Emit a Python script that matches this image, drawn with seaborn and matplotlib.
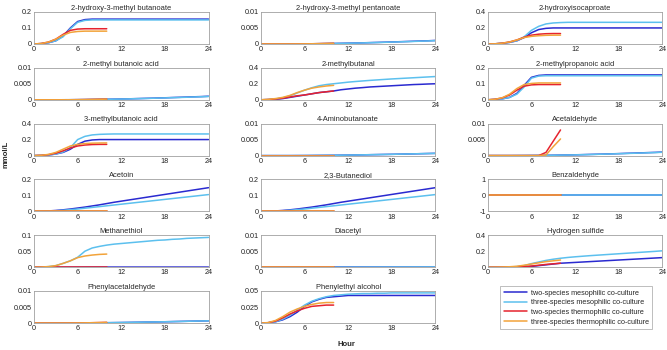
import pandas as pd
import numpy as np
import matplotlib
matplotlib.use('Agg')
import matplotlib.pyplot as plt
from matplotlib.lines import Line2D
from matplotlib.ticker import FuncFormatter
import seaborn as sns

# sampling hours
hours_meso = list(range(0, 25))
hours_thermo = list(range(0, 11))

cultures = ['two-species mesophilic co-culture', 'three-species mesophilic co-culture',
            'two-species thermophilic co-culture', 'three-species thermophilic co-culture']
colors = ['#2a2ad0', '#5cc0ee', '#e6232e', '#f2a33a']

compounds = ['2-hydroxy-3-methyl butanoate', '2-hydroxy-3-methyl pentanoate', '2-hydroxyisocaproate',
             '2-methyl butanoic acid', '2-methylbutanal', '2-methylpropanoic acid',
             '3-methylbutanoic acid', '4-Aminobutanoate', 'Acetaldehyde',
             'Acetoin', '2,3-Butanediol', 'Benzaldehyde',
             'Methanethiol', 'Diacetyl', 'Hydrogen sulfide',
             'Phenylacetaldehyde', 'Phenylethyl alcohol']

y_max = [0.2, 0.01, 0.4, 0.01, 0.4, 0.2, 0.4, 0.01, 0.01, 0.2, 0.2, 1, 0.1, 0.01, 0.4, 0.01, 0.05]

# shared traces
slow_meso_a = [0, 0, 0, 0, 0.00001, 0.00002, 0.00004, 0.00006, 0.00009, 0.00012, 0.00016, 0.0002, 0.00025,
               0.0003, 0.00036, 0.00042, 0.00048, 0.00055, 0.00062, 0.0007, 0.00077, 0.00085, 0.00093, 0.001, 0.0011]
slow_meso_b = [0, 0, 0, 0, 0.00001, 0.00002, 0.00003, 0.00005, 0.00008, 0.00011, 0.00015, 0.00019, 0.00023,
               0.00028, 0.00034, 0.0004, 0.00046, 0.00052, 0.00059, 0.00066, 0.00073, 0.0008, 0.00088, 0.00095, 0.00104]
slow_meso_c = [0, 0, 0, 0, 0, 0.00001, 0.00002, 0.00004, 0.00006, 0.00008, 0.0001, 0.00013, 0.00016,
               0.0002, 0.00024, 0.00028, 0.00032, 0.00036, 0.0004, 0.00045, 0.0005, 0.00055, 0.0006, 0.00065, 0.0007]
slow_thermo = [0, 0, 0, 0, 0, 0.00001, 0.00003, 0.00006, 0.0001, 0.00015, 0.0002]
zero_meso = [0, 0, 0, 0, 0, 0, 0, 0, 0, 0, 0, 0, 0, 0, 0, 0, 0, 0, 0, 0, 0, 0, 0, 0, 0]
zero_thermo = [0, 0, 0, 0, 0, 0, 0, 0, 0, 0, 0]

two_meso = {
    '2-hydroxy-3-methyl butanoate': [0, 0.002, 0.008, 0.02, 0.05, 0.1, 0.14, 0.152, 0.155, 0.155, 0.155, 0.155, 0.155,
                                     0.155, 0.155, 0.155, 0.155, 0.155, 0.155, 0.155, 0.155, 0.155, 0.155, 0.155, 0.155],
    '2-hydroxy-3-methyl pentanoate': slow_meso_a,
    '2-hydroxyisocaproate': [0, 0.002, 0.008, 0.02, 0.04, 0.08, 0.14, 0.18, 0.195, 0.2, 0.2, 0.2, 0.2,
                             0.2, 0.2, 0.2, 0.2, 0.2, 0.2, 0.2, 0.2, 0.2, 0.2, 0.2, 0.2],
    '2-methyl butanoic acid': slow_meso_a,
    '2-methylbutanal': [0, 0.002, 0.006, 0.015, 0.03, 0.045, 0.06, 0.075, 0.09, 0.1, 0.11, 0.125, 0.135,
                        0.145, 0.152, 0.16, 0.165, 0.17, 0.175, 0.18, 0.185, 0.19, 0.193, 0.197, 0.2],
    '2-methylpropanoic acid': [0, 0.002, 0.006, 0.015, 0.04, 0.09, 0.14, 0.152, 0.155, 0.155, 0.155, 0.155, 0.155,
                               0.155, 0.155, 0.155, 0.155, 0.155, 0.155, 0.155, 0.155, 0.155, 0.155, 0.155, 0.155],
    '3-methylbutanoic acid': [0, 0.002, 0.008, 0.02, 0.04, 0.08, 0.14, 0.18, 0.195, 0.2, 0.2, 0.2, 0.2,
                              0.2, 0.2, 0.2, 0.2, 0.2, 0.2, 0.2, 0.2, 0.2, 0.2, 0.2, 0.2],
    '4-Aminobutanoate': slow_meso_c,
    'Acetaldehyde': slow_meso_a,
    'Acetoin': [0, 0.001, 0.003, 0.006, 0.01, 0.015, 0.021, 0.027, 0.034, 0.041, 0.049, 0.057, 0.064,
                0.071, 0.078, 0.085, 0.092, 0.099, 0.106, 0.113, 0.12, 0.127, 0.134, 0.141, 0.148],
    '2,3-Butanediol': [0, 0.001, 0.003, 0.006, 0.01, 0.015, 0.021, 0.027, 0.034, 0.041, 0.049, 0.057, 0.064,
                       0.071, 0.078, 0.085, 0.092, 0.099, 0.106, 0.113, 0.12, 0.127, 0.134, 0.141, 0.148],
    'Benzaldehyde': zero_meso,
    'Methanethiol': [0, 0, 0, 0, 0, 0.0002, 0.0003, 0.0004, 0.0005, 0.0005, 0.0005, 0.0005, 0.0005,
                     0.0005, 0.0005, 0.0005, 0.0005, 0.0005, 0.0005, 0.0005, 0.0005, 0.0005, 0.0005, 0.0005, 0.0005],
    'Diacetyl': zero_meso,
    'Hydrogen sulfide': [0, 0, 0, 0, 0, 0.002, 0.01, 0.02, 0.03, 0.04, 0.05, 0.055, 0.06,
                         0.065, 0.07, 0.075, 0.08, 0.085, 0.09, 0.095, 0.1, 0.105, 0.11, 0.115, 0.12],
    'Phenylacetaldehyde': slow_meso_c,
    'Phenylethyl alcohol': [0, 0.0005, 0.002, 0.005, 0.01, 0.017, 0.026, 0.033, 0.037, 0.04, 0.041, 0.042, 0.043,
                            0.043, 0.043, 0.043, 0.043, 0.043, 0.043, 0.043, 0.043, 0.043, 0.043, 0.043, 0.043],
}

three_meso = {
    '2-hydroxy-3-methyl butanoate': [0, 0.002, 0.008, 0.02, 0.045, 0.095, 0.135, 0.147, 0.15, 0.15, 0.15, 0.15, 0.15,
                                     0.15, 0.15, 0.15, 0.15, 0.15, 0.15, 0.15, 0.15, 0.15, 0.15, 0.15, 0.15],
    '2-hydroxy-3-methyl pentanoate': slow_meso_b,
    '2-hydroxyisocaproate': [0, 0.002, 0.008, 0.02, 0.04, 0.09, 0.17, 0.22, 0.25, 0.262, 0.267, 0.27, 0.27,
                             0.27, 0.27, 0.27, 0.27, 0.27, 0.27, 0.27, 0.27, 0.27, 0.27, 0.27, 0.27],
    '2-methyl butanoic acid': slow_meso_b,
    '2-methylbutanal': [0, 0.003, 0.01, 0.025, 0.05, 0.085, 0.12, 0.15, 0.175, 0.19, 0.2, 0.21, 0.22,
                        0.228, 0.235, 0.242, 0.248, 0.254, 0.26, 0.265, 0.27, 0.275, 0.28, 0.285, 0.29],
    '2-methylpropanoic acid': [0, 0.002, 0.006, 0.015, 0.035, 0.08, 0.135, 0.148, 0.15, 0.15, 0.15, 0.15, 0.15,
                               0.15, 0.15, 0.15, 0.15, 0.15, 0.15, 0.15, 0.15, 0.15, 0.15, 0.15, 0.15],
    '3-methylbutanoic acid': [0, 0.002, 0.008, 0.02, 0.045, 0.1, 0.2, 0.24, 0.258, 0.265, 0.268, 0.27, 0.27,
                              0.27, 0.27, 0.27, 0.27, 0.27, 0.27, 0.27, 0.27, 0.27, 0.27, 0.27, 0.27],
    '4-Aminobutanoate': slow_meso_c,
    'Acetaldehyde': slow_meso_b,
    'Acetoin': [0, 0.001, 0.002, 0.004, 0.007, 0.011, 0.015, 0.02, 0.025, 0.03, 0.035, 0.04, 0.045,
                0.05, 0.055, 0.06, 0.065, 0.07, 0.075, 0.08, 0.085, 0.09, 0.095, 0.1, 0.105],
    '2,3-Butanediol': [0, 0.001, 0.002, 0.004, 0.007, 0.011, 0.015, 0.02, 0.025, 0.03, 0.035, 0.04, 0.045,
                       0.05, 0.055, 0.06, 0.065, 0.07, 0.075, 0.08, 0.085, 0.09, 0.095, 0.1, 0.105],
    'Benzaldehyde': zero_meso,
    'Methanethiol': [0, 0.0005, 0.002, 0.005, 0.012, 0.02, 0.031, 0.05, 0.06, 0.065, 0.069, 0.072, 0.074,
                     0.076, 0.078, 0.08, 0.082, 0.084, 0.085, 0.087, 0.088, 0.09, 0.091, 0.092, 0.093],
    'Diacetyl': [0, 0, 0, 0, 0, 0, 0, 0, 0, 0.00001, 0.00001, 0.00002, 0.00002,
                 0.00003, 0.00003, 0.00004, 0.00004, 0.00005, 0.00005, 0.00006, 0.00006, 0.00007, 0.00007, 0.00008, 0.00008],
    'Hydrogen sulfide': [0, 0, 0.001, 0.003, 0.008, 0.02, 0.045, 0.065, 0.085, 0.1, 0.112, 0.122, 0.13,
                         0.137, 0.144, 0.15, 0.156, 0.162, 0.168, 0.174, 0.18, 0.186, 0.192, 0.198, 0.205],
    'Phenylacetaldehyde': slow_meso_c,
    'Phenylethyl alcohol': [0, 0.0005, 0.002, 0.006, 0.012, 0.02, 0.028, 0.034, 0.038, 0.041, 0.043, 0.044, 0.045,
                            0.0455, 0.046, 0.046, 0.0465, 0.0465, 0.047, 0.047, 0.047, 0.047, 0.047, 0.047, 0.047],
}

two_thermo = {
    '2-hydroxy-3-methyl butanoate': [0, 0.003, 0.012, 0.03, 0.06, 0.085, 0.093, 0.095, 0.095, 0.095, 0.095],
    '2-hydroxy-3-methyl pentanoate': slow_thermo,
    '2-hydroxyisocaproate': [0, 0.002, 0.01, 0.025, 0.05, 0.085, 0.11, 0.122, 0.128, 0.13, 0.13],
    '2-methyl butanoic acid': slow_thermo,
    '2-methylbutanal': [0, 0.003, 0.01, 0.02, 0.035, 0.05, 0.06, 0.075, 0.09, 0.1, 0.11],
    '2-methylpropanoic acid': [0, 0.003, 0.012, 0.03, 0.06, 0.085, 0.093, 0.095, 0.095, 0.095, 0.095],
    '3-methylbutanoic acid': [0, 0.003, 0.012, 0.03, 0.06, 0.095, 0.12, 0.132, 0.138, 0.14, 0.14],
    '4-Aminobutanoate': zero_thermo,
    'Acetaldehyde': [0, 0, 0, 0, 0, 0, 0, 0, 0.001, 0.0045, 0.008],
    'Acetoin': zero_thermo,
    '2,3-Butanediol': zero_thermo,
    'Benzaldehyde': zero_thermo,
    'Methanethiol': zero_thermo,
    'Diacetyl': zero_thermo,
    'Hydrogen sulfide': [0, 0.001, 0.002, 0.004, 0.006, 0.009, 0.015, 0.025, 0.035, 0.043, 0.05],
    'Phenylacetaldehyde': slow_thermo,
    'Phenylethyl alcohol': [0, 0.0005, 0.003, 0.008, 0.014, 0.019, 0.023, 0.026, 0.027, 0.028, 0.028],
}

three_thermo = {
    '2-hydroxy-3-methyl butanoate': [0, 0.003, 0.012, 0.03, 0.055, 0.072, 0.078, 0.08, 0.08, 0.08, 0.08],
    '2-hydroxy-3-methyl pentanoate': slow_thermo,
    '2-hydroxyisocaproate': [0, 0.002, 0.01, 0.025, 0.05, 0.08, 0.095, 0.103, 0.108, 0.11, 0.11],
    '2-methyl butanoic acid': slow_thermo,
    '2-methylbutanal': [0, 0.005, 0.015, 0.03, 0.055, 0.09, 0.12, 0.145, 0.16, 0.172, 0.18],
    '2-methylpropanoic acid': [0, 0.003, 0.013, 0.035, 0.07, 0.095, 0.102, 0.105, 0.105, 0.105, 0.105],
    '3-methylbutanoic acid': [0, 0.004, 0.015, 0.04, 0.08, 0.12, 0.14, 0.15, 0.155, 0.157, 0.158],
    '4-Aminobutanoate': zero_thermo,
    'Acetaldehyde': [0, 0, 0, 0, 0, 0, 0, 0, 0.0002, 0.0028, 0.0052],
    'Acetoin': zero_thermo,
    '2,3-Butanediol': zero_thermo,
    'Benzaldehyde': zero_thermo,
    'Methanethiol': [0, 0.0005, 0.002, 0.005, 0.012, 0.02, 0.03, 0.035, 0.038, 0.04, 0.041],
    'Diacetyl': zero_thermo,
    'Hydrogen sulfide': [0, 0.001, 0.003, 0.006, 0.012, 0.025, 0.04, 0.055, 0.07, 0.08, 0.09],
    'Phenylacetaldehyde': slow_thermo,
    'Phenylethyl alcohol': [0, 0.0007, 0.004, 0.01, 0.017, 0.022, 0.026, 0.029, 0.031, 0.032, 0.032],
}

# long table for seaborn
rows = []
for name in compounds:
    for culture, series, hrs in zip(cultures, [two_meso, three_meso, two_thermo, three_thermo],
                                    [hours_meso, hours_meso, hours_thermo, hours_thermo]):
        for h, v in zip(hrs, series[name]):
            rows.append((name, culture, h, v))
df = pd.DataFrame(rows, columns=['compound', 'culture', 'hour', 'value'])

sns.set_style('white')
plt.rcParams['font.family'] = ['Liberation Sans', 'DejaVu Sans']

fig, axes = plt.subplots(6, 3, figsize=(6.67, 3.5), dpi=100)
fig.subplots_adjust(left=0.051, right=0.993, top=0.966, bottom=0.077, wspace=0.3, hspace=0.74)
palette = dict(zip(cultures, colors))
fmt = FuncFormatter(lambda v, p: f'{v:g}')

for i, name in enumerate(compounds):
    ax = axes.flat[i]
    sub = df[df['compound'] == name]
    sns.lineplot(data=sub, x='hour', y='value', hue='culture', hue_order=cultures, palette=palette,
                 estimator=None, errorbar=None, legend=False, linewidth=1.1, ax=ax)
    ax.set_xlim(0, 24)
    ax.set_xticks([0, 6, 12, 18, 24])
    top = y_max[i]
    if name == 'Benzaldehyde':
        ax.set_ylim(-1, 1)
        ax.set_yticks([-1, 0, 1])
    else:
        ax.set_ylim(0, top)
        ax.set_yticks([0, top / 2, top])
    ax.yaxis.set_major_formatter(fmt)
    ax.set_title(name, fontsize=5.4, pad=1.5)
    ax.set_xlabel('')
    ax.set_ylabel('')
    ax.tick_params(labelsize=5.2, direction='in', length=2, width=0.5, pad=1.5, colors='#9a9a9a',
                   labelcolor='#222222')
    for s in ax.spines.values():
        s.set_color('#a0a0a0')
        s.set_linewidth(0.6)

axes.flat[-1].axis('off')

handles = [Line2D([], [], color=c, lw=1.1) for c in colors]
leg = fig.legend(handles, cultures, loc='center', bbox_to_anchor=(0.864, 0.121), fontsize=5.2,
                 frameon=True, fancybox=False, edgecolor='#a0a0a0', handlelength=3.2,
                 borderpad=0.45, labelspacing=0.35, handletextpad=0.6)
leg.get_frame().set_linewidth(0.6)

fig.text(0.009, 0.56, 'mmol/L', rotation=90, ha='center', va='center', fontsize=5.5, fontweight='bold')
fig.text(0.52, 0.015, 'Hour', ha='center', va='center', fontsize=5.5, fontweight='bold')

plt.savefig('out.png', dpi=100)
plt.close()
